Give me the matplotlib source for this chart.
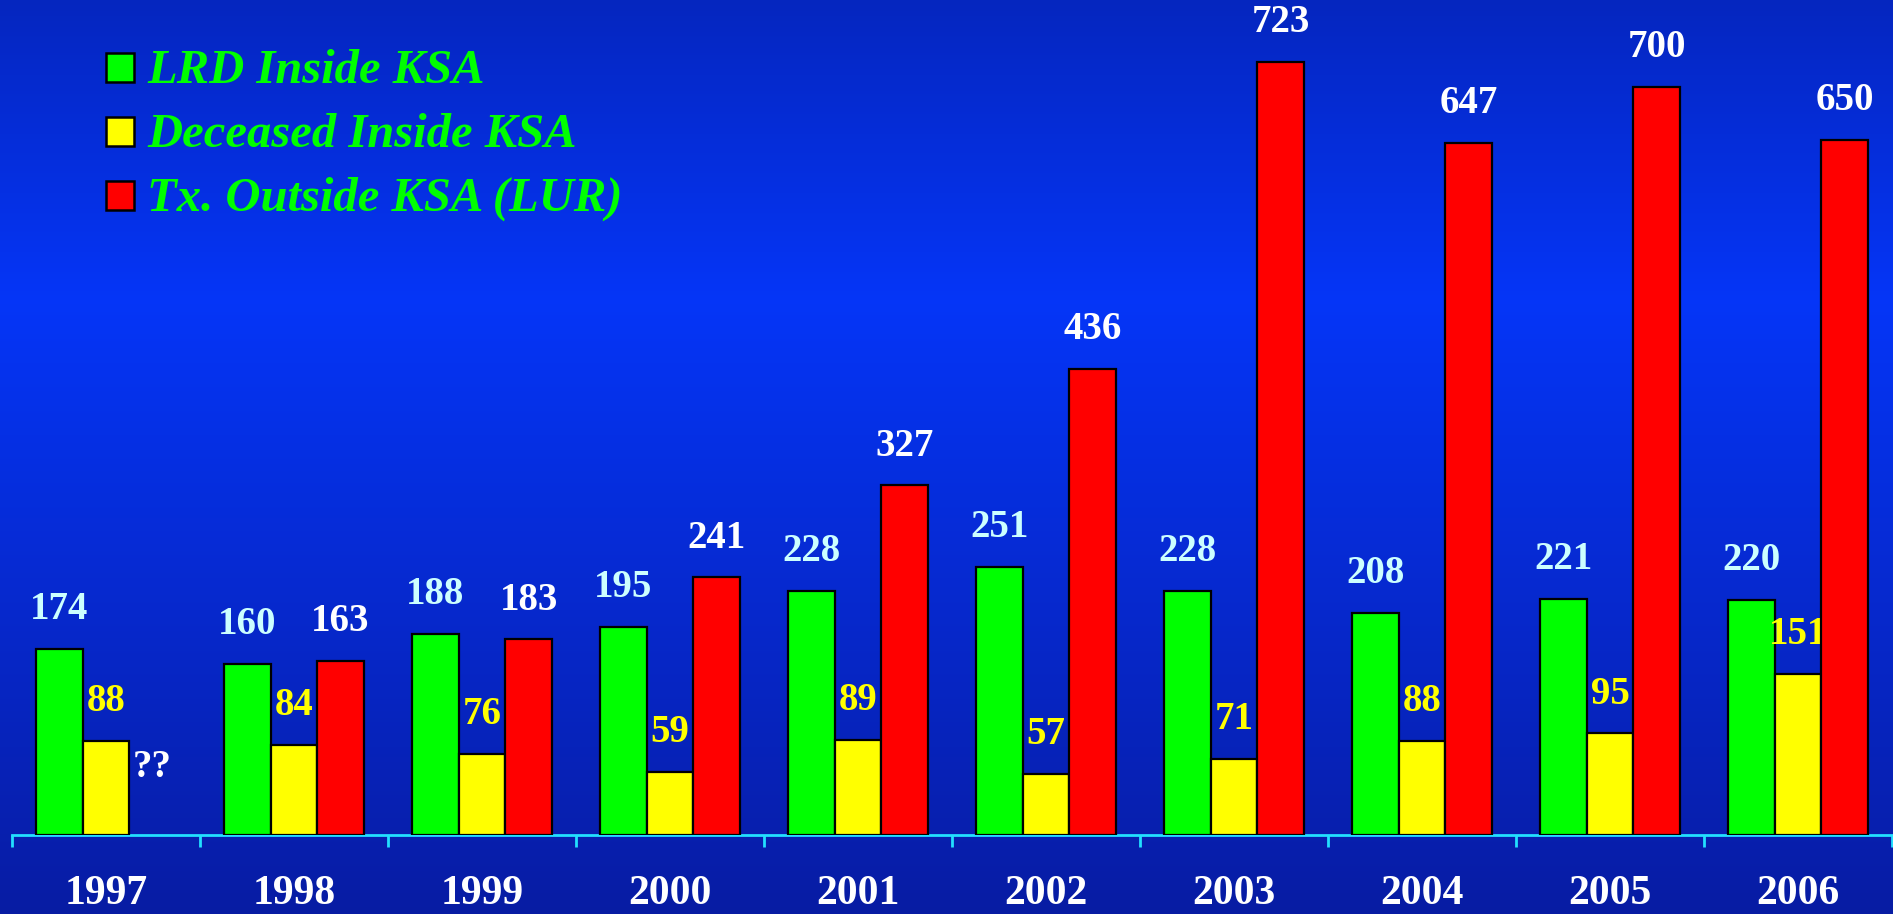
import numpy as np
import matplotlib
matplotlib.use("Agg")
import matplotlib.pyplot as plt

years = ['1997', '1998', '1999', '2000', '2001', '2002', '2003', '2004', '2005', '2006']
lrd_inside = [174, 160, 188, 195, 228, 251, 228, 208, 221, 220]
deceased_inside = [88, 84, 76, 59, 89, 57, 71, 88, 95, 151]
tx_outside = [np.nan, 163, 183, 241, 327, 436, 723, 647, 700, 650]
legend_names = ['LRD Inside KSA', 'Deceased Inside KSA', 'Tx. Outside KSA (LUR)']

W, H = 1893, 914
fig = plt.figure(figsize=(W / 100, H / 100), dpi=100)

# blue gradient backdrop, brightest a bit above the middle
bg = fig.add_axes([0, 0, 1, 1])
t = np.linspace(0, 1, 400)
top = np.array([0.02, 0.15, 0.75])
mid = np.array([0.02, 0.21, 0.97])
bot = np.array([0.03, 0.11, 0.64])
cols = np.where(t[:, None] < 0.33,
                top + (mid - top) * (t[:, None] / 0.33),
                mid + (bot - mid) * ((t[:, None] - 0.33) / 0.67))
bg.imshow(cols[:, None, :], aspect='auto', extent=[0, 1, 0, 1])
bg.axis('off')

ax = fig.add_axes([12 / W, 79 / H, 1880 / W, 835 / H])
ax.patch.set_alpha(0)
ax.set_xlim(0, 10)
ax.set_ylim(0, 781)

x = np.arange(len(years)) + 0.5
bw = 0.248
series = [
    (lrd_inside, '#00ff00', '#ccffff'),
    (deceased_inside, '#ffff00', '#ffff00'),
    (tx_outside, '#ff0000', 'white'),
]
lab_font = dict(family='Liberation Serif', weight='bold', fontsize=28)
for k, (vals, fc, tc) in enumerate(series):
    xs = x + (k - 1) * bw
    ax.bar(xs, vals, width=bw, color=fc, edgecolor='black', linewidth=1.6, zorder=3)
    for xi, v in zip(xs, vals):
        if np.isnan(v):
            # no figure yet for this year
            ax.annotate('??', (xi, 0), xytext=(0, 35), textcoords='offset points',
                        ha='center', va='bottom', color='white', **lab_font)
        else:
            ax.annotate(str(v), (xi, v), xytext=(0, 15), textcoords='offset points',
                        ha='center', va='bottom', color=tc, **lab_font)

for s in ['top', 'right', 'left']:
    ax.spines[s].set_visible(False)
ax.spines['bottom'].set_color('#22e0ff')
ax.spines['bottom'].set_linewidth(2)
ax.set_yticks([])
ax.set_xticks(np.arange(11))
ax.set_xticklabels([])
ax.tick_params(axis='x', which='major', direction='out', length=8.5, width=2, color='#22e0ff')
ax.set_xticks(x, minor=True)
ax.set_xticklabels(years, minor=True, color='white', fontfamily='Liberation Serif',
                   fontweight='bold', fontsize=30)
ax.tick_params(axis='x', which='minor', length=0, pad=29)

# legend: coloured squares with bold italic green names
sq_cols = ['#00ff00', '#ffff00', '#ff0000']
for i, (name, c) in enumerate(zip(legend_names, sq_cols)):
    ytop = 53 + 64 * i
    fig.add_artist(plt.Rectangle((106, H - ytop - 29), 28, 29, transform=None,
                                 facecolor=c, edgecolor='black', linewidth=1.8))
    fig.text(147 / W, 1 - (83 + 64 * i) / H, name, color='#00ff00',
             fontfamily='Liberation Serif', fontweight='bold', fontstyle='italic',
             fontsize=35, ha='left', va='baseline')

fig.savefig('out.png', dpi=100)
